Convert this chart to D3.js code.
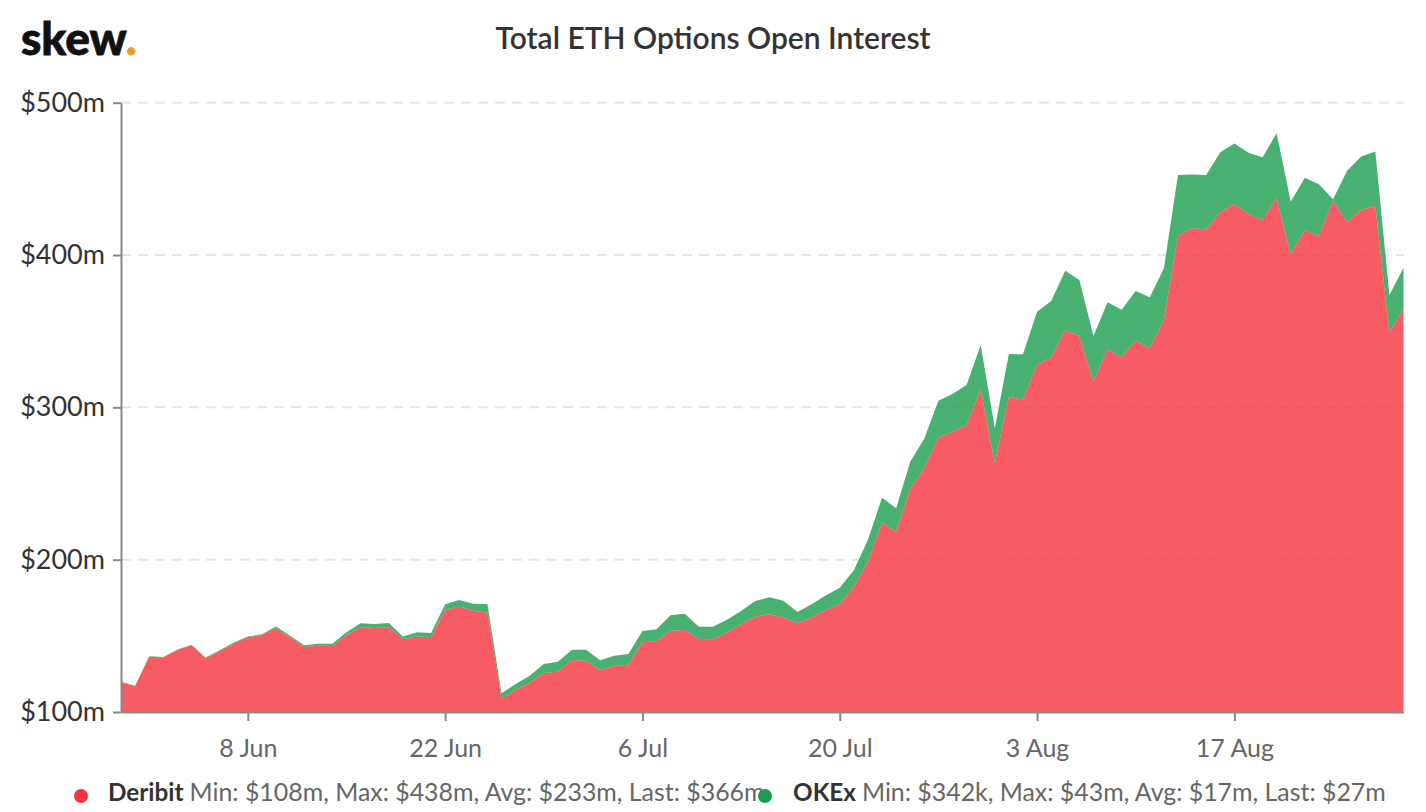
<!DOCTYPE html>
<html>
<head>
<meta charset="utf-8">
<script src="https://cdnjs.cloudflare.com/ajax/libs/d3/7.8.5/d3.min.js"></script>
<style>
  html, body { margin: 0; padding: 0; background: #fff; }
  svg { display: block; font-family: Lato, sans-serif; }
  .y-axis text { fill: #333; font-size: 27px; font-family: Lato, sans-serif; }
  .x-axis text { fill: #666; font-size: 25px; font-family: Lato, sans-serif; }
  .domain, .tick line { stroke: #888; stroke-width: 2px; }
  .grid line { stroke: #e6e6e6; stroke-width: 2px; stroke-dasharray: 10 7; }
  .legend text { font-size: 24.9px; fill: #666; }
  .legend .name { fill: #333; font-weight: 700; font-size: 24.3px; }
</style>
</head>
<body>
<svg id="chart" width="1426" height="812"></svg>
<script>
'use strict';

var title = "Total ETH Options Open Interest";
var firstDay = "2020-05-30";
var lastDay = "2020-08-29";
var xTicks = ["2020-06-08", "2020-06-22", "2020-07-06", "2020-07-20", "2020-08-03", "2020-08-17"];
var yTicks = [100, 200, 300, 400, 500];

// $m, one value per day
var deribit = [
  119.5, 117, 136.3, 135.7, 140.7, 143.8, 135.3, 140, 145, 149,
  150.5, 155, 149, 142.7, 143.5, 143.3, 150.5, 155.6, 155.2, 155.6,
  147.7, 149.5, 149.2, 167.2, 169.2, 166.5, 165.2, 108.7, 114.4, 119.2,
  125.6, 126.5, 134.1, 133.7, 127.6, 130.4, 131, 145.8, 146.4, 153.4,
  153.8, 147.9, 147.7, 152, 157.6, 162.6, 164.1, 162.1, 158.2, 162.1,
  167, 170.9, 182.3, 198.7, 224.3, 218.4, 246.2, 260, 280.1, 284,
  288.4, 311.9, 263.3, 307, 305, 327.8, 332.9, 350.6, 346.9, 316.9,
  338.1, 332.9, 343.8, 339, 357.4, 412.5, 417.6, 416.7, 428.1, 433.5,
  427, 423, 437.3, 400.7, 416.5, 412.5, 435.7, 421.9, 429.6, 432.4,
  349, 365
];
var okex = [
  0.3, 0.3, 0.3, 0.4, 0.4, 0.4, 0.4, 0.5, 0.6, 0.6,
  0.5, 1.2, 1, 1.1, 1.3, 1.5, 1.8, 2.6, 2.6, 2.8,
  1.8, 2.8, 2.6, 3.5, 4.3, 4.6, 5.7, 3.6, 4, 4.6,
  5.9, 6.5, 6.8, 7.2, 6.3, 6.6, 7.1, 7.4, 7.9, 10.1,
  10.7, 8.1, 8.3, 8.6, 8.7, 10.3, 11.2, 10.9, 7.5, 8.6,
  9.4, 10.7, 10.7, 14.3, 16.4, 15.3, 18.1, 19.6, 24.3, 24.8,
  26.3, 29.1, 23, 28, 29.8, 35, 37, 39, 36.7, 30,
  30.9, 31.1, 32.6, 33.3, 33.9, 40.1, 35.2, 35.9, 39.4, 39.7,
  40.2, 41.2, 42.6, 34.3, 34.3, 33.9, 0.9, 33.5, 35, 35.6,
  24.8, 26.7
];

var days = d3.utcDay.range(new Date(firstDay), d3.utcDay.offset(new Date(lastDay), 1));
var rows = days.map(function(d, i) {
  return { date: d, Deribit: deribit[i], OKEx: okex[i] };
});

var svg = d3.select("#chart");

var x = d3.scaleUtc()
  .domain([new Date(firstDay), new Date(lastDay)])
  .range([121, 1403.5]);
var y = d3.scaleLinear()
  .domain([100, 500])
  .range([712, 102.7]);

// horizontal dashed grid, sits under the translucent areas
svg.append("g").attr("class", "grid")
  .selectAll("line")
  .data(yTicks.slice(1))
  .join("line")
  .attr("x1", 121).attr("x2", 1404)
  .attr("y1", function(d) { return y(d); })
  .attr("y2", function(d) { return y(d); });

var series = d3.stack().keys(["Deribit", "OKEx"])(rows);
var colors = { Deribit: "#f5333f", OKEx: "#1a9c4c" };

var area = d3.area()
  .x(function(d) { return x(d.data.date); })
  .y0(function(d) { return y(Math.max(d[0], 100)); })
  .y1(function(d) { return y(d[1]); });

svg.append("g").selectAll("path")
  .data(series)
  .join("path")
  .attr("d", area)
  .attr("fill", function(d) { return colors[d.key]; })
  .attr("fill-opacity", 0.8);

svg.append("g").attr("class", "x-axis")
  .attr("transform", "translate(0,712)")
  .call(d3.axisBottom(x)
    .tickValues(xTicks.map(function(d) { return new Date(d); }))
    .tickFormat(d3.utcFormat("%-d %b"))
    .tickSize(9).tickPadding(18).tickSizeOuter(0));

svg.append("g").attr("class", "y-axis")
  .attr("transform", "translate(121,0)")
  .call(d3.axisLeft(y)
    .tickValues(yTicks)
    .tickFormat(function(d) { return "$" + d + "m"; })
    .tickSize(8).tickPadding(8).tickSizeOuter(0));

svg.append("text")
  .attr("x", 713).attr("y", 49)
  .attr("text-anchor", "middle")
  .attr("font-size", 30).attr("font-weight", 600)
  .attr("fill", "#333")
  .text(title);

// logo
var logo = svg.append("text")
  .attr("x", 21).attr("y", 55)
  .attr("font-family", "Lato, sans-serif")
  .attr("font-size", 46).attr("font-weight", 900)
  .attr("fill", "#111")
  .attr("stroke", "#111").attr("stroke-width", 0.8);
logo.append("tspan").text("skew");
logo.append("tspan").attr("fill", "#e8a02a").attr("stroke", "#e8a02a").text(".");

// legend
var legendItems = [
  { name: "Deribit", stats: "Min: $108m, Max: $438m, Avg: $233m, Last: $366m", dot: 81, text: 108 },
  { name: "OKEx", stats: "Min: $342k, Max: $43m, Avg: $17m, Last: $27m", dot: 765, text: 793 }
];
var legend = svg.append("g").attr("class", "legend");
legendItems.forEach(function(item) {
  legend.append("circle")
    .attr("cx", item.dot).attr("cy", 796).attr("r", 7)
    .attr("fill", colors[item.name]);
  var t = legend.append("text").attr("x", item.text).attr("y", 801);
  t.append("tspan").attr("class", "name").text(item.name);
  t.append("tspan").attr("dx", 6).text(item.stats);
});
</script>
</body>
</html>
